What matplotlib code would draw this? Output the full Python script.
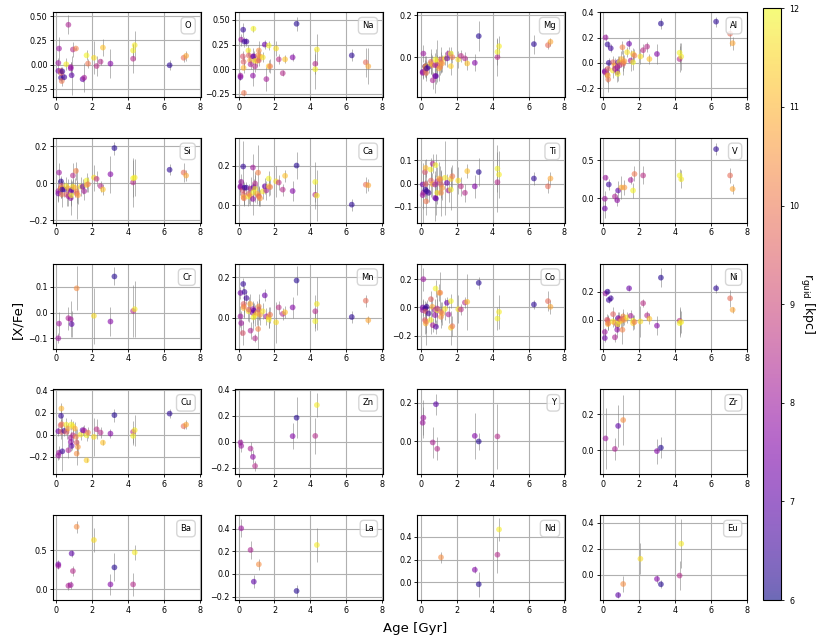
import numpy as np
import matplotlib
matplotlib.use("Agg")
import matplotlib.pyplot as plt

# star catalogue: age [Gyr] and guiding radius [kpc]
AGE = [0.11, 0.11, 0.15, 0.24, 0.26, 0.28, 0.28, 0.30, 0.33, 0.44,
       0.55, 0.57, 0.65, 0.67, 0.80, 0.80, 0.83, 0.85, 0.92, 0.92,
       1.03, 1.09, 1.13, 1.13, 1.20, 1.35, 1.46, 1.55, 1.68, 1.68,
       1.76, 2.09, 2.24, 2.46, 2.59, 3.01, 3.23, 4.27, 4.27, 4.36,
       6.30, 7.08, 7.22]
RGUID = [7.3, 8.0, 8.0, 9.3, 6.4, 9.5, 11.0, 10.0, 6.5, 6.6,
         11.8, 9.6, 10.8, 8.3, 8.1, 7.8, 11.9, 7.0, 11.7, 8.5,
         10.9, 10.2, 10.4, 9.5, 10.6, 11.7, 7.2, 8.2, 11.9, 11.4,
         10.0, 11.6, 8.6, 8.5, 11.2, 7.6, 6.2, 8.5, 11.9, 11.8,
         6.3, 9.8, 10.8]

# elements measured for (nearly) every star: one entry per star, None = missing
NA_VAL = [-0.08, -0.065, 0.30, 0.13, 0.40, 0.075, 0.014, -0.24, 0.28, 0.28,
          0.19, 0.14, 0.09, 0.05, 0.13, -0.065, 0.41, 0.13, 0.085, 0.03,
          0.085, 0.14, 0.19, 0.09, 0.13, 0.12, 0.25, -0.10, 0.24, 0.03,
          0.03, 0.21, 0.10, -0.04, 0.10, 0.12, 0.46, 0.055, 0.0, 0.20,
          0.14, 0.07, 0.03]
NA_ERR = [0.03, 0.04, 0.06, 0.05, 0.07, 0.06, 0.05, 0.03, 0.05, 0.04,
          0.06, 0.06, 0.05, 0.05, 0.08, 0.10, 0.03, 0.05, 0.04, 0.06,
          0.05, 0.06, 0.10, 0.06, 0.05, 0.05, 0.05, 0.12, 0.05, 0.06,
          0.07, 0.08, 0.05, 0.03, 0.04, 0.04, 0.07, 0.10, 0.20, 0.16,
          0.06, 0.15, 0.18]
MG_VAL = [-0.07, -0.075, 0.017, -0.046, -0.043, -0.06, -0.043, -0.075, -0.054, -0.046,
          -0.03, -0.022, -0.038, -0.11, -0.038, -0.09, -0.011, -0.09, -0.02, -0.038,
          -0.054, -0.046, -0.027, -0.011, -0.03, -0.006, -0.006, 0.017, 0.017, -0.043,
          0.0, -0.011, 0.006, -0.006, -0.03, -0.027, 0.10, 0.0, 0.025, 0.052,
          0.062, 0.057, 0.073]
MG_ERR = [0.03, 0.03, 0.04, 0.05, 0.03, 0.04, 0.05, 0.04, 0.03, 0.03,
          0.05, 0.06, 0.05, 0.04, 0.06, 0.08, 0.05, 0.04, 0.10, 0.05,
          0.06, 0.04, 0.05, 0.06, 0.04, 0.03, 0.04, 0.03, 0.03, 0.04,
          0.03, 0.04, 0.03, 0.03, 0.03, 0.04, 0.07, 0.09, 0.06, 0.05,
          0.045, 0.02, 0.02]
AL_VAL = [-0.066, -0.073, 0.20, -0.09, 0.145, -0.047, -0.10, -0.13, 0.0, 0.115,
          -0.06, 0.005, -0.02, -0.047, -0.034, -0.073, -0.087, 0.005, 0.005, -0.02,
          0.03, 0.123, 0.005, -0.008, 0.013, 0.084, 0.15, 0.018, 0.005, 0.07,
          0.058, 0.05, 0.10, 0.128, 0.03, 0.07, 0.31, 0.03, 0.08, 0.05,
          0.325, 0.23, 0.155]
AL_ERR = [0.03, 0.04, 0.03, 0.06, 0.03, 0.05, 0.06, 0.10, 0.04, 0.03,
          0.06, 0.05, 0.06, 0.05, 0.05, 0.08, 0.06, 0.05, 0.05, 0.06,
          0.06, 0.05, 0.10, 0.06, 0.05, 0.04, 0.04, 0.08, 0.06, 0.05,
          0.05, 0.06, 0.05, 0.04, 0.04, 0.08, 0.04, 0.10, 0.08, 0.11,
          0.04, 0.10, 0.05]
SI_VAL = [-0.055, -0.042, 0.058, -0.027, 0.01, -0.013, -0.027, -0.06, -0.033, -0.033,
          -0.015, -0.06, -0.027, -0.07, -0.045, -0.08, -0.064, -0.036, -0.018, 0.042,
          -0.024, 0.067, -0.045, -0.055, -0.064, -0.018, -0.018, -0.042, 0.015, -0.009,
          -0.005, 0.031, 0.024, -0.015, -0.033, 0.049, 0.19, 0.005, 0.027, 0.031,
          0.073, 0.058, 0.042]
SI_ERR = [0.04, 0.06, 0.05, 0.05, 0.03, 0.04, 0.05, 0.07, 0.04, 0.04,
          0.05, 0.06, 0.05, 0.05, 0.07, 0.09, 0.06, 0.05, 0.04, 0.07,
          0.05, 0.05, 0.06, 0.14, 0.05, 0.05, 0.04, 0.05, 0.04, 0.04,
          0.04, 0.07, 0.04, 0.03, 0.03, 0.10, 0.035, 0.13, 0.10, 0.10,
          0.03, 0.05, 0.03]
CA_VAL = [0.095, 0.09, 0.117, 0.074, 0.195, 0.052, 0.04, 0.034, 0.088, 0.088,
          0.043, 0.057, 0.048, 0.083, 0.19, 0.031, 0.066, 0.091, 0.083, 0.109,
          0.057, 0.164, 0.048, 0.043, 0.034, 0.069, 0.095, 0.074, 0.134, 0.095,
          0.091, 0.12, 0.114, 0.078, 0.148, 0.071, 0.20, 0.052, 0.117, 0.048,
          0.002, 0.103, 0.10]
CA_ERR = [0.03, 0.04, 0.04, 0.05, 0.13, 0.05, 0.04, 0.04, 0.03, 0.03,
          0.05, 0.05, 0.05, 0.06, 0.07, 0.08, 0.05, 0.04, 0.07, 0.06,
          0.05, 0.14, 0.05, 0.05, 0.04, 0.04, 0.04, 0.05, 0.04, 0.05,
          0.04, 0.08, 0.04, 0.03, 0.03, 0.05, 0.07, 0.07, 0.10, 0.13,
          0.03, 0.04, 0.03]
TI_VAL = [-0.004, -0.05, -0.04, 0.05, -0.026, -0.002, 0.068, -0.077, -0.033, -0.04,
          0.061, 0.013, -0.002, 0.086, -0.004, -0.062, 0.08, -0.065, -0.04, 0.01,
          0.022, 0.017, -0.04, -0.004, -0.019, 0.025, 0.003, -0.03, -0.026, 0.02,
          0.032, 0.013, -0.012, -0.04, 0.054, -0.012, 0.05, 0.006, 0.065, 0.039,
          0.022, -0.012, 0.022]
TI_ERR = [0.05, 0.06, 0.13, 0.05, 0.04, 0.05, 0.04, 0.06, 0.05, 0.04,
          0.05, 0.07, 0.05, 0.04, 0.06, 0.10, 0.05, 0.07, 0.05, 0.06,
          0.07, 0.06, 0.10, 0.06, 0.05, 0.16, 0.04, 0.05, 0.09, 0.05,
          0.05, 0.06, 0.04, 0.04, 0.03, 0.05, 0.06, 0.13, 0.10, 0.10,
          0.03, 0.03, 0.03]
MN_VAL = [0.123, 0.008, -0.025, -0.074, 0.167, 0.069, 0.049, 0.057, 0.128, 0.098,
          0.033, 0.041, 0.069, -0.062, 0.044, 0.025, 0.003, 0.036, 0.013, -0.10,
          0.025, -0.054, 0.057, 0.041, 0.016, 0.033, 0.111, 0.008, -0.008, 0.003,
          0.016, -0.021, 0.052, 0.02, 0.028, 0.052, 0.184, 0.033, -0.016, 0.069,
          0.005, 0.085, -0.011]
MN_ERR = [0.03, 0.05, 0.06, 0.06, 0.03, 0.04, 0.05, 0.05, 0.03, 0.03,
          0.05, 0.06, 0.05, 0.04, 0.04, 0.05, 0.06, 0.04, 0.05, 0.02,
          0.06, 0.12, 0.06, 0.05, 0.05, 0.04, 0.03, 0.04, 0.04, 0.05,
          0.04, 0.10, 0.03, 0.03, 0.03, 0.05, 0.07, 0.08, 0.05, 0.13,
          0.03, 0.03, 0.02]
CO_VAL = [0.0, -0.019, 0.20, -0.089, -0.007, -0.026, -0.113, -0.10, 0.005, -0.042,
          -0.089, 0.059, 0.005, -0.125, -0.019, -0.054, 0.134, -0.136, -0.019, -0.007,
          0.104, 0.104, -0.066, -0.031, -0.042, -0.01, 0.033, -0.049, 0.045, -0.143,
          -0.132, -0.012, -0.014, 0.035, 0.04, None, 0.174, None, -0.078, -0.031,
          0.021, 0.045, 0.005]
CO_ERR = [0.06, 0.07, 0.08, 0.10, 0.05, 0.06, 0.15, 0.08, 0.05, 0.05,
          0.10, 0.06, 0.07, 0.05, 0.08, 0.07, 0.06, 0.05, 0.12, 0.07,
          0.06, 0.15, 0.08, 0.07, 0.08, 0.08, 0.04, 0.06, 0.05, 0.12,
          0.07, 0.10, 0.04, 0.04, 0.20, None, 0.04, None, 0.08, 0.12,
          0.03, 0.07, 0.05]
NI_VAL = [-0.13, -0.087, 0.188, 0.0, 0.20, -0.007, -0.031, -0.024, 0.141, 0.153,
          -0.012, 0.04, -0.02, -0.125, -0.035, -0.071, -0.031, 0.012, -0.012, 0.007,
          -0.007, -0.071, 0.024, 0.007, 0.0, 0.016, 0.224, 0.028, -0.007, -0.024,
          -0.016, -0.012, 0.118, 0.031, 0.007, -0.042, 0.30, -0.007, -0.024, -0.016,
          0.224, 0.153, 0.071]
NI_ERR = [0.03, 0.03, 0.02, 0.04, 0.02, 0.04, 0.04, 0.05, 0.02, 0.02,
          0.04, 0.05, 0.04, 0.03, 0.05, 0.05, 0.04, 0.04, 0.04, 0.05,
          0.05, 0.10, 0.05, 0.05, 0.04, 0.04, 0.02, 0.04, 0.04, 0.05,
          0.05, 0.11, 0.03, 0.03, 0.04, 0.07, 0.07, 0.10, 0.10, 0.08,
          0.03, 0.06, 0.02]
CU_VAL = [0.03, -0.19, -0.164, 0.085, 0.17, 0.024, 0.236, 0.094, -0.152, 0.033,
          0.09, 0.024, 0.055, -0.142, -0.03, -0.067, 0.091, -0.103, 0.076, -0.006,
          0.055, -0.021, -0.173, -0.073, -0.112, 0.0, 0.04, 0.036, -0.006, -0.233,
          0.018, -0.021, 0.048, 0.018, -0.073, 0.009, 0.176, 0.024, -0.012, 0.04,
          0.19, 0.076, 0.09]
CU_ERR = [0.04, 0.04, 0.06, 0.06, 0.05, 0.06, 0.05, 0.07, 0.18, 0.05,
          0.06, 0.06, 0.05, 0.07, 0.06, 0.08, 0.05, 0.04, 0.05, 0.06,
          0.06, 0.07, 0.10, 0.12, 0.06, 0.05, 0.04, 0.05, 0.05, 0.02,
          0.05, 0.17, 0.09, 0.05, 0.02, 0.04, 0.06, 0.10, 0.08, 0.14,
          0.04, 0.03, 0.04]

# sparser elements: star index, value, error
O_IDX = [0, 1, 2, 3, 4, 5, 7, 8, 9, 10, 13, 14, 15, 17, 19, 21, 26, 27, 28, 30,
         31, 32, 33, 34, 35, 37, 38, 39, 40, 41, 42]
O_VAL = [-0.065, 0.017, 0.165, -0.065, -0.135, -0.09, -0.17, -0.07, -0.13, 0.003,
         0.41, -0.025, -0.04, -0.11, 0.155, 0.165, -0.15, -0.135, 0.095, 0.01,
         0.07, -0.015, 0.03, 0.175, 0.01, 0.06, 0.145, 0.20, -0.007, 0.07, 0.09]
O_ERR = [0.03, 0.05, 0.12, 0.04, 0.04, 0.05, 0.05, 0.04, 0.03, 0.06,
         0.10, 0.05, 0.07, 0.20, 0.08, 0.02, 0.03, 0.15, 0.05, 0.05,
         0.17, 0.10, 0.03, 0.09, 0.15, 0.15, 0.07, 0.15, 0.05, 0.04, 0.05]
V_IDX = [0, 1, 2, 8, 13, 15, 17, 20, 24, 27, 28, 30, 32, 38, 39, 40, 41, 42]
V_VAL = [-0.14, -0.01, 0.27, 0.18, 0.02, -0.03, 0.10, 0.14, 0.14, 0.24, 0.10, 0.32,
         0.30, 0.30, 0.25, 0.65, 0.30, 0.12]
V_ERR = [0.12, 0.10, 0.03, 0.07, 0.06, 0.07, 0.13, 0.15, 0.10, 0.05, 0.10, 0.10,
         0.12, 0.08, 0.12, 0.08, 0.10, 0.07]
CR_IDX = [1, 2, 13, 14, 17, 22, 31, 35, 36, 37, 39]
CR_VAL = [-0.10, -0.043, -0.022, -0.026, -0.045, 0.094, -0.013, -0.035, 0.14, 0.006, 0.013]
CR_ERR = [0.02, 0.045, 0.045, 0.07, 0.05, 0.085, 0.11, 0.055, 0.035, 0.10, 0.11]
ZN_IDX = [1, 2, 13, 15, 19, 35, 36, 37, 39]
ZN_VAL = [-0.005, -0.031, -0.052, -0.116, -0.186, 0.044, 0.186, 0.046, 0.284]
ZN_ERR = [0.02, 0.05, 0.05, 0.05, 0.04, 0.10, 0.16, 0.14, 0.09]
Y_IDX = [1, 2, 13, 17, 19, 35, 36, 37]
Y_VAL = [0.097, 0.123, -0.005, 0.193, -0.038, 0.029, 0.0, 0.026]
Y_ERR = [0.08, 0.09, 0.08, 0.055, 0.06, 0.12, 0.045, 0.17]
ZR_IDX = [2, 13, 17, 22, 35, 36]
ZR_VAL = [0.065, 0.006, 0.135, 0.168, -0.006, 0.013]
ZR_ERR = [0.17, 0.06, 0.12, 0.14, 0.07, 0.06]
BA_IDX = [0, 1, 13, 14, 17, 19, 22, 31, 35, 36, 37, 39]
BA_VAL = [0.32, 0.30, 0.043, 0.052, 0.46, 0.233, 0.806, 0.634, 0.06, 0.28, 0.06, 0.474]
BA_ERR = [0.05, 0.04, 0.05, 0.05, 0.05, 0.06, 0.08, 0.16, 0.14, 0.18, 0.15, 0.10]
LA_IDX = [2, 13, 17, 22, 36, 39]
LA_VAL = [0.403, 0.212, -0.068, 0.085, -0.15, 0.256]
LA_ERR = [0.08, 0.08, 0.06, 0.05, 0.05, 0.15]
ND_IDX = [22, 35, 36, 37, 39]
ND_VAL = [0.22, 0.11, -0.018, 0.243, 0.466]
ND_ERR = [0.05, 0.03, 0.11, 0.16, 0.10]
EU_IDX = [17, 22, 31, 35, 36, 37, 39]
EU_VAL = [-0.155, -0.07, 0.124, -0.031, -0.072, -0.005, 0.24]
EU_ERR = [0.02, 0.065, 0.12, 0.03, 0.03, 0.11, 0.19]

ELEMENTS = ["O", "Na", "Mg", "Al", "Si", "Ca", "Ti", "V", "Cr", "Mn",
            "Co", "Ni", "Cu", "Zn", "Y", "Zr", "Ba", "La", "Nd", "Eu"]

YLIMS = [(-0.335, 0.54), (-0.282, 0.578), (-0.19, 0.214), (-0.27, 0.40),
         (-0.213, 0.245), (-0.09, 0.34), (-0.17, 0.198), (-0.33, 0.80),
         (-0.14, 0.19), (-0.15, 0.267), (-0.29, 0.31), (-0.205, 0.40),
         (-0.36, 0.41), (-0.25, 0.405), (-0.17, 0.27), (-0.136, 0.34),
         (-0.142, 0.957), (-0.23, 0.52), (-0.157, 0.593), (-0.193, 0.46)]
YTICKS = [[-0.25, 0, 0.25, 0.5], [-0.25, 0, 0.25, 0.5], [0.0, 0.2], [-0.2, 0, 0.2, 0.4],
          [-0.2, 0, 0.2], [0, 0.2], [-0.1, 0, 0.1], [0, 0.5],
          [-0.1, 0, 0.1], [0, 0.2], [-0.2, 0, 0.2], [0, 0.2],
          [-0.2, 0, 0.2, 0.4], [-0.2, 0, 0.2, 0.4], [0, 0.2], [0, 0.2],
          [0, 0.5], [-0.2, 0, 0.2, 0.4], [0, 0.2, 0.4], [0, 0.2, 0.4]]


def dense(vals, errs):
    idx = [i for i, v in enumerate(vals) if v is not None]
    return idx, [vals[i] for i in idx], [errs[i] for i in idx]


panels = [
    (O_IDX, O_VAL, O_ERR), dense(NA_VAL, NA_ERR), dense(MG_VAL, MG_ERR),
    dense(AL_VAL, AL_ERR), dense(SI_VAL, SI_ERR), dense(CA_VAL, CA_ERR),
    dense(TI_VAL, TI_ERR), (V_IDX, V_VAL, V_ERR), (CR_IDX, CR_VAL, CR_ERR),
    dense(MN_VAL, MN_ERR), dense(CO_VAL, CO_ERR), dense(NI_VAL, NI_ERR),
    dense(CU_VAL, CU_ERR), (ZN_IDX, ZN_VAL, ZN_ERR), (Y_IDX, Y_VAL, Y_ERR),
    (ZR_IDX, ZR_VAL, ZR_ERR), (BA_IDX, BA_VAL, BA_ERR), (LA_IDX, LA_VAL, LA_ERR),
    (ND_IDX, ND_VAL, ND_ERR), (EU_IDX, EU_VAL, EU_ERR),
]

age = np.array(AGE)
rguid = np.array(RGUID)

fig, axes = plt.subplots(5, 4, figsize=(8.3, 6.39), dpi=100)
fig.subplots_adjust(left=0.064, right=0.900, top=0.981, bottom=0.061,
                    wspace=0.236, hspace=0.48)

for ax, name, (idx, val, err), ylim, yt in zip(axes.flat, ELEMENTS, panels, YLIMS, YTICKS):
    idx = np.array(idx)
    ax.errorbar(age[idx], val, yerr=err, fmt="none", ecolor="grey",
                elinewidth=0.6, alpha=0.65, zorder=2)
    sc = ax.scatter(age[idx], val, c=rguid[idx], cmap="plasma", vmin=6, vmax=12,
                    s=17, alpha=0.6, edgecolors="none", zorder=3)
    ax.set_xlim(-0.18, 8.02)
    ax.set_xticks([0, 2, 4, 6, 8])
    ax.set_ylim(ylim)
    ax.set_yticks(yt)
    ax.grid(True, color="#b0b0b0", lw=0.8)
    ax.set_axisbelow(True)
    ax.tick_params(labelsize=5.8, length=2.5, width=0.6, pad=1.5)
    for sp in ax.spines.values():
        sp.set_linewidth(0.8)
    ax.annotate(name, xy=(1, 1), xycoords="axes fraction", xytext=(-9, -9),
                textcoords="offset pixels", ha="right", va="top", fontsize=6,
                bbox=dict(boxstyle="round,pad=0.45", fc="white", ec="0.8", alpha=0.8))

cax = fig.add_axes([0.919, 0.061, 0.022, 0.926])
cb = fig.colorbar(sc, cax=cax)
cb.set_ticks(range(6, 13))
cb.ax.tick_params(labelsize=5.8, length=2.5, width=0.6)
cb.outline.set_linewidth(0.8)
cb.set_label(r"r$_{\rm guid}$ [kpc]", rotation=270, labelpad=12, fontsize=9)

fig.text(0.022, 0.5, "[X/Fe]", rotation=90, fontsize=9.5, ha="center", va="center")
fig.text(0.5, 0.017, "Age [Gyr]", fontsize=9.5, ha="center", va="center")

fig.savefig("out.png", dpi=100)
